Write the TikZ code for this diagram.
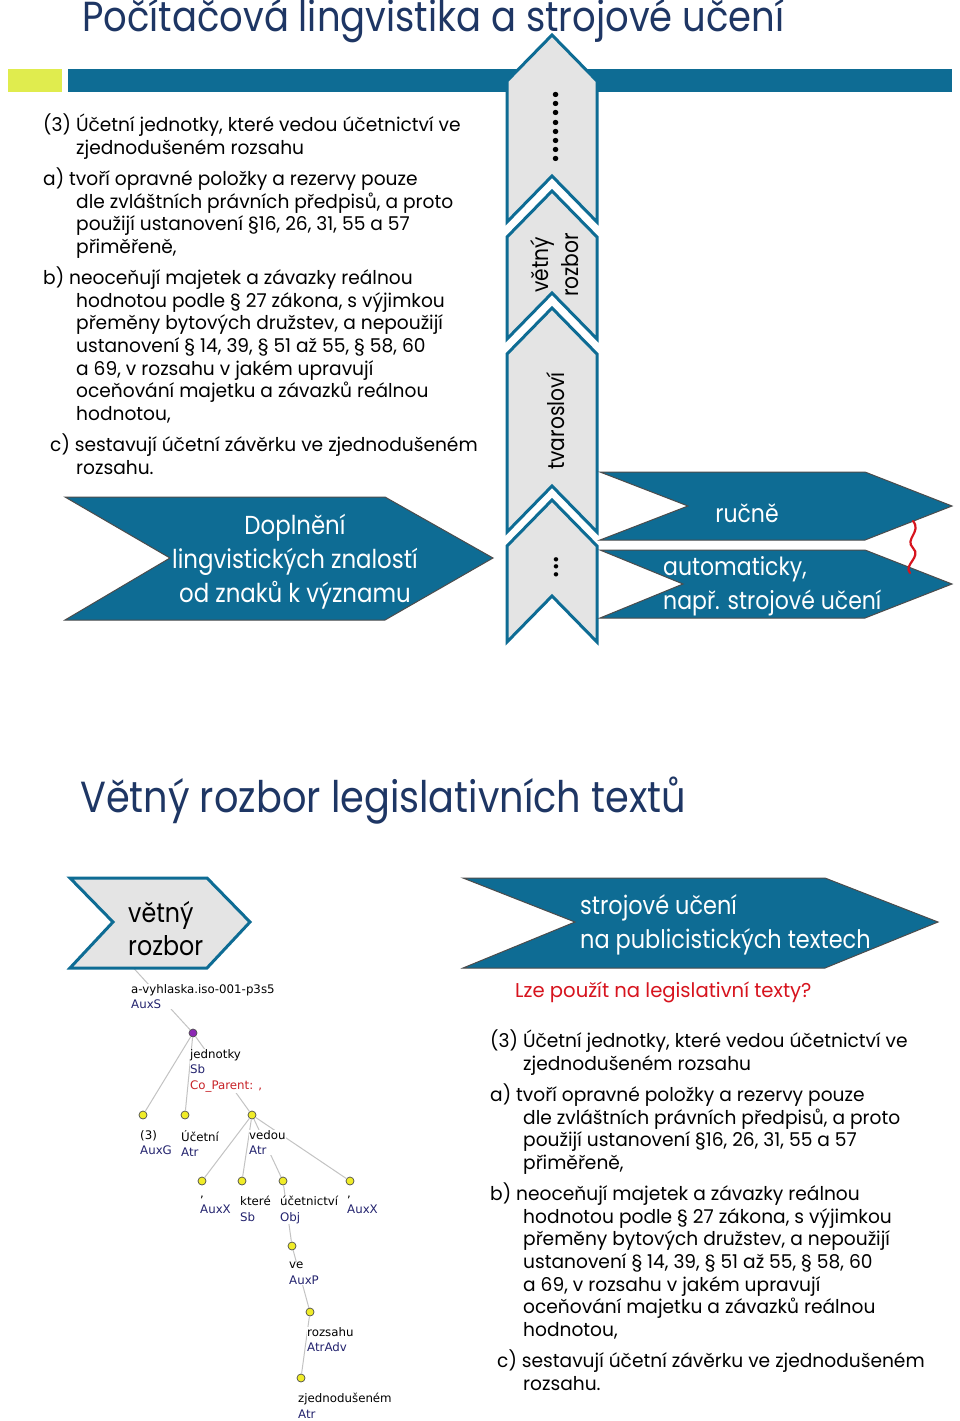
\documentclass[tikz,border=0pt]{standalone}
\usepackage{fontspec}
\setmainfont{Poppins}[FakeStretch=0.98]
\newfontfamily\narrowfont{Poppins}[FakeStretch=0.88]
\newfontfamily\treefont{DejaVu Sans}

\definecolor{barblue}{RGB}{14,108,148}
\definecolor{limegreen}{RGB}{224,236,78}
\definecolor{segfill}{RGB}{228,228,228}
\definecolor{titlenavy}{RGB}{30,54,100}
\definecolor{afunblue}{RGB}{35,35,110}
\definecolor{parentred}{RGB}{200,35,40}
\definecolor{askred}{RGB}{215,20,30}
\definecolor{edgegray}{RGB}{195,195,195}
\definecolor{knotyellow}{RGB}{240,236,40}
\definecolor{knotpurple}{RGB}{140,40,180}

\tikzset{
  pagetitle/.style={anchor=base west, inner sep=0pt, text=titlenavy, font=\narrowfont\fontsize{42}{42}\selectfont},
  segment/.style={fill=segfill, draw=barblue, line width=3pt, line join=miter},
  bluearrow/.style={fill=barblue, draw=black!70, line width=1pt},
  columntext/.style={inner sep=0pt, font=\narrowfont\fontsize{23}{30}\selectfont},
  arrowtext/.style={inner sep=0pt, text=white, font=\narrowfont\fontsize{25}{34}\selectfont},
  lawtext/.style={anchor=north west, align=left, inner sep=0pt, font=\fontsize{19}{22.6}\selectfont},
  treeedge/.style={draw=edgegray, line width=1pt},
  knot/.style={circle, draw=black!70, fill=knotyellow, inner sep=0pt, minimum size=8pt, line width=0.7pt},
  treelabel/.style={anchor=north west, align=left, inner sep=0pt, fill=white, font=\treefont\fontsize{11.8}{15.8}\selectfont}
}

% the paragraph is printed twice
\newcommand{\lawpar}{%
(3) Účetní jednotky, které vedou účetnictví ve\\
\hspace*{33pt}zjednodušeném rozsahu\\[7.5pt]
a) tvoří opravné položky a rezervy pouze\\
\hspace*{33pt}dle zvláštních právních předpisů, a proto\\
\hspace*{33pt}použijí ustanovení §16, 26, 31, 55 a 57\\
\hspace*{33pt}přiměřeně,\\[7.5pt]
b) neoceňují majetek a závazky reálnou\\
\hspace*{33pt}hodnotou podle § 27 zákona, s výjimkou\\
\hspace*{33pt}přeměny bytových družstev, a nepoužijí\\
\hspace*{33pt}ustanovení § 14, 39, § 51 až 55, § 58, 60\\
\hspace*{33pt}a 69, v rozsahu v jakém upravují\\
\hspace*{33pt}oceňování majetku a závazků reálnou\\
\hspace*{33pt}hodnotou,\\[9pt]
\hspace*{7pt}c) sestavují účetní závěrku ve zjednodušeném\\
\hspace*{33pt}rozsahu.}

\begin{document}
\begin{tikzpicture}[x=1pt,y=-1pt]
\useasboundingbox[fill=white] (0,0) rectangle (960,1421);

% Header
\fill[limegreen] (8,69) rectangle (62,92);
\fill[barblue] (68,69) rectangle (952,92);
\node[pagetitle] (title) at (82,32) {Počítačová lingvistika a strojové učení};

% Vertical column of levels
\foreach \t/\b in {35/222,191/339,308/532,500/642}
  \draw[segment] (552,\t) -- (597,\t+46) -- (597,\b) -- (552,\b-46) -- (507,\b) -- (507,\t+46) -- cycle;

\node[columntext, rotate=90, font=\fontsize{44}{44}\selectfont] (dotsup) at (556,127) {........};
\node[columntext, rotate=90, align=center] (syntax) at (555,265) {větný\\rozbor};
\node[columntext, rotate=90] (morph) at (556,421) {tvarosloví};
\node[columntext, rotate=90, font=\fontsize{36}{36}\selectfont] (dotsdown) at (556,567) {...};

% Left text and arrow
\node[lawtext] (lawtop) at (43,114) {\lawpar};

\draw[bluearrow] (65,497) -- (385,497) -- (493,558) -- (385,620) -- (65,620) -- (170,558) -- cycle;
\node[arrowtext, align=center, font=\narrowfont\fontsize{26}{34}\selectfont] (fill) at (295,562) {Doplnění\\lingvistických znalostí\\od znaků k významu};

% Manual vs automatic
\draw[bluearrow] (600,472) -- (865,472) -- (952,506) -- (865,540) -- (600,540) -- (688,506) -- cycle;
\draw[bluearrow] (600,550) -- (865,550) -- (952,584) -- (865,618) -- (600,618) -- (683,584) -- cycle;
\node[arrowtext] (manual) at (747,513) {ručně};
\node[arrowtext, anchor=west, align=left] (auto) at (663,586) {automaticky,\\např. strojové učení};

\draw[askred, line width=2.2pt, line cap=round] (913,521) .. controls (922,532) and (904,539) .. (913,548) .. controls (922,557) and (903,565) .. (910,573);

% Second part
\node[pagetitle, font=\narrowfont\fontsize{43.5}{43.5}\selectfont] (title2) at (80,812) {Větný rozbor legislativních textů};

% dependency tree (root edge goes under the box)
\coordinate (kroot) at (128,962);
\node[knot, fill=knotpurple] (kjednotky) at (193,1033) {};
\draw[treeedge] (kroot) -- (kjednotky);

\draw[fill=segfill, draw=barblue, line width=3pt] (70,878) -- (207,878) -- (250,922) -- (207,968) -- (70,968) -- (113,922) -- cycle;
\node[anchor=west, align=left, inner sep=0pt, font=\narrowfont\fontsize{27}{33}\selectfont] (parse) at (128,929) {větný\\rozbor};

\draw[bluearrow] (463,878) -- (825,878) -- (938,922) -- (825,968) -- (463,968) -- (575,922) -- cycle;
\node[arrowtext, anchor=west, align=left, font=\narrowfont\fontsize{25.5}{34}\selectfont] (mlnews) at (580,925) {strojové učení\\na publicistických textech};

\node[anchor=west, inner sep=0pt, text=askred, font=\fontsize{20}{24}\selectfont] (question) at (515,992) {Lze použít na legislativní texty?};

\node[knot] (k3) at (143,1115) {};
\node[knot] (kucetni) at (185,1115) {};
\node[knot] (kvedou) at (252,1115) {};
\node[knot] (kcomma1) at (202,1181) {};
\node[knot] (ktere) at (242,1181) {};
\node[knot] (kucetnictvi) at (283,1181) {};
\node[knot] (kcomma2) at (350,1181) {};
\node[knot] (kve) at (292,1246) {};
\node[knot] (krozsahu) at (310,1312) {};
\node[knot] (kzjed) at (301,1378) {};

\draw[treeedge] (kjednotky) -- (k3);
\draw[treeedge] (kjednotky) -- (kucetni);
\draw[treeedge] (kjednotky) -- (kvedou);
\foreach \c in {kcomma1,ktere,kucetnictvi,kcomma2}
  \draw[treeedge] (kvedou) -- (\c);
\draw[treeedge] (kucetnictvi) -- (kve);
\draw[treeedge] (kve) -- (krozsahu);
\draw[treeedge] (krozsahu) -- (kzjed);

\node[treelabel] (lroot) at (131,984) {a-vyhlaska.iso-001-p3s5\\\textcolor{afunblue}{AuxS}};
\node[treelabel] (ljednotky) at (190,1049) {jednotky\\\textcolor{afunblue}{Sb}\\\textcolor{parentred}{Co\_Parent: ,}};
\node[treelabel] (l3) at (140,1130) {(3)\\\textcolor{afunblue}{AuxG}};
\node[treelabel] (lucetni) at (181,1130) {Účetní\\\textcolor{afunblue}{Atr}};
\node[treelabel] (lvedou) at (249,1130) {vedou\\\textcolor{afunblue}{Atr}};
\node[treelabel] (lcomma1) at (200,1196) {,\\\textcolor{afunblue}{AuxX}};
\node[treelabel] (ltere) at (240,1196) {které\\\textcolor{afunblue}{Sb}};
\node[treelabel] (lucetnictvi) at (280,1196) {účetnictví\\\textcolor{afunblue}{Obj}};
\node[treelabel] (lcomma2) at (347,1196) {,\\\textcolor{afunblue}{AuxX}};
\node[treelabel] (lve) at (289,1262) {ve\\\textcolor{afunblue}{AuxP}};
\node[treelabel] (lrozsahu) at (307,1327) {rozsahu\\\textcolor{afunblue}{AtrAdv}};
\node[treelabel] (lzjed) at (298,1393) {zjednodušeném\\\textcolor{afunblue}{Atr}};

% Right text
\node[lawtext] (lawbottom) at (490,1030) {\lawpar};

\end{tikzpicture}
\end{document}
